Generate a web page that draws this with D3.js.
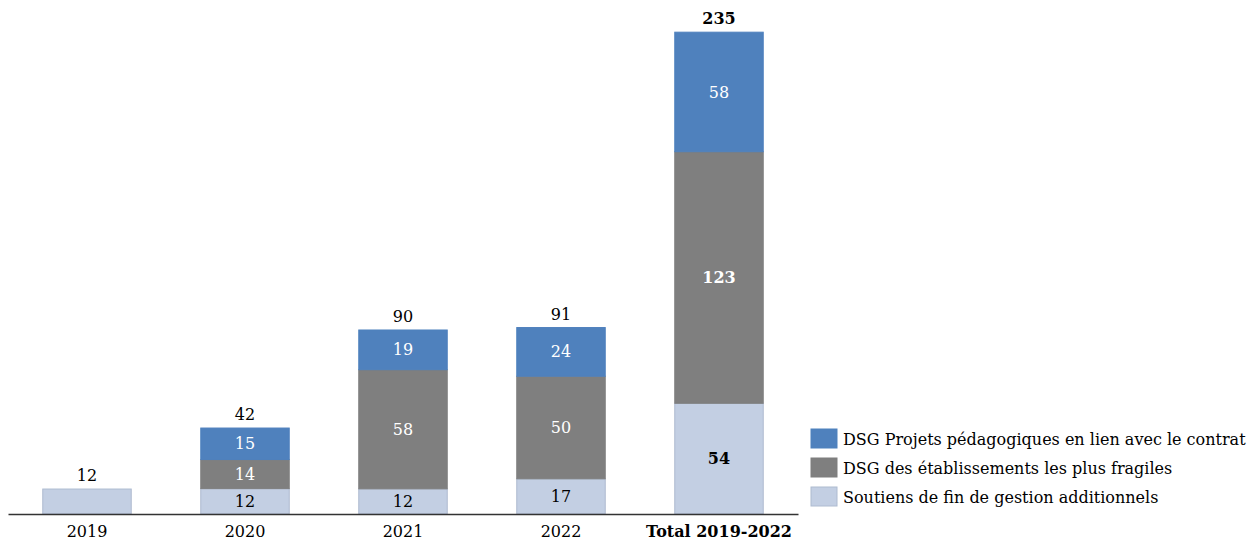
<!DOCTYPE html>
<html><head><meta charset="utf-8">
<script src="https://cdn.jsdelivr.net/npm/d3@7"></script>
<style>body{margin:0;background:#fff}svg{display:block}text{font-family:"DejaVu Serif",serif}</style>
</head><body><svg id="c" width="1253" height="542"></svg>
<script>
const categories = ["2019","2020","2021","2022","Total 2019-2022"];
const seriesNames = ["Soutiens de fin de gestion additionnels","DSG des établissements les plus fragiles","DSG Projets pédagogiques en lien avec le contrat"];
const soutiens = [12.2, 12.4, 12.3, 17.2, 54.1];
const fragiles = [0, 14.2, 58.2, 50.1, 122.9];
const projets = [0, 15.4, 19.4, 23.8, 58.4];
const totals = [12, 42, 90, 91, 235];
const colors = ["#C3CFE3", "#7F7F7F", "#4F81BD"];
const textColors = ["#000", "#fff", "#fff"];
const FS = 16;

const svg = d3.select("#c");
const baseY = 514, topY = 33;
const x = d3.scaleBand().domain(categories).range([8, 798]).paddingInner(0.44).paddingOuter(0.22);
const y = d3.scaleLinear().domain([0, 235]).range([baseY, topY]);

const rows = categories.map((c,i)=>({cat:c, s0:soutiens[i], s1:fragiles[i], s2:projets[i]}));
const stack = d3.stack().keys(["s0","s1","s2"])(rows);

stack.forEach((layer, li) => {
  const g = svg.append("g");
  layer.forEach((d, i) => {
    if (d[1] - d[0] <= 0) return;
    g.append("rect").attr("x", x(categories[i])).attr("width", x.bandwidth())
      .attr("y", y(d[1])).attr("height", y(d[0]) - y(d[1]))
      .attr("fill", colors[li]).attr("stroke", li===0 ? "#AEBBD0" : colors[li]).attr("stroke-width", 1);
    if (i === 0) return; // 2019 has only total label
    const isTotal = i === categories.length - 1;
    g.append("text").attr("x", x(categories[i]) + x.bandwidth()/2)
      .attr("y", (y(d[0]) + y(d[1]))/2).attr("dy", "0.35em")
      .attr("text-anchor", "middle").attr("font-size", FS)
      .attr("font-weight", isTotal && li < 2 ? "bold" : "normal")
      .attr("fill", textColors[li]).text(Math.round(d[1]-d[0]));
  });
});

// totals
svg.append("g").selectAll("text").data(categories).join("text")
  .attr("x", c => x(c) + x.bandwidth()/2)
  .attr("y", (c,i) => y(soutiens[i]+fragiles[i]+projets[i]) - 8)
  .attr("text-anchor","middle").attr("font-size",FS)
  .attr("font-weight",(c,i)=> i===categories.length-1 ? "bold":"normal")
  .text((c,i)=>totals[i]);

// axis
const ax = svg.append("g").attr("transform", `translate(0,${baseY})`)
  .call(d3.axisBottom(x).tickSize(0).tickPadding(12));
ax.select(".domain").attr("stroke","#333").attr("stroke-width",1.5);
ax.selectAll(".tick text").attr("font-size",FS).attr("fill","#000")
  .attr("font-family",'"DejaVu Serif",serif')
  .attr("font-weight", d => d.startsWith("Total") ? "bold" : "normal");

// legend
const legendOrder = [2,1,0];
const lg = svg.append("g").attr("transform","translate(811,429)");
legendOrder.forEach((si, k) => {
  lg.append("rect").attr("x",0).attr("y",k*29).attr("width",26).attr("height",19)
    .attr("fill",colors[si]).attr("stroke", si===0 ? "#AEBBD0" : colors[si]);
  lg.append("text").attr("x",32).attr("y",k*29+10).attr("dy","0.35em")
    .attr("font-size",FS).text(seriesNames[si]);
});
</script></body></html>
